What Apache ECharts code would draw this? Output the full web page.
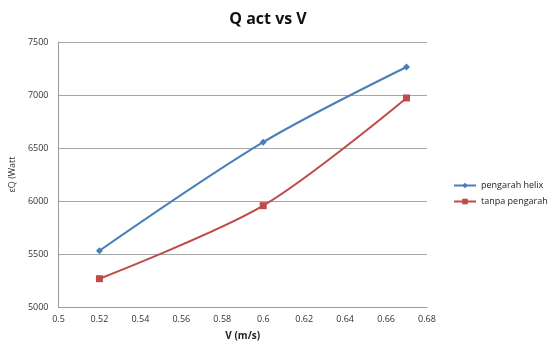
<!DOCTYPE html>
<html>
<head>
<meta charset="utf-8">
<script src="https://cdn.jsdelivr.net/npm/echarts@6/dist/echarts.min.js"></script>
<style>
html,body{margin:0;padding:0;background:#fff;}
#chart{width:552px;height:347px;}
</style>
</head>
<body>
<div id="chart"></div>
<script>
// Velocity (m/s) and heat transfer rate (Watt)
const velocity = [0.52, 0.6, 0.67];
const helixQ = [5531, 6555, 7264];
const plainQ = [5267, 5956, 6972];
const seriesNames = ['pengarah helix', 'tanpa pengarah'];

const font = 'Open Sans, Liberation Sans, sans-serif';
const chart = echarts.init(document.getElementById('chart'));
chart.setOption({
  animation: false,
  title: {
    text: 'Q act vs V',
    left: 263, top: 6, textAlign: 'center',
    textStyle: {fontFamily: font, fontSize: 16, fontWeight: 'bold', color: '#111'}
  },
  legend: {
    orient: 'vertical', left: 448, top: 176, itemGap: 7,
    itemWidth: 22, itemHeight: 7,
    textStyle: {fontFamily: font, fontSize: 9, color: '#222'},
    data: seriesNames
  },
  grid: {left: 58, right: 125, top: 42, bottom: 40},
  xAxis: {
    type: 'value', min: 0.5, max: 0.68, interval: 0.02,
    name: 'V (m/s)', nameLocation: 'middle', nameGap: 24,
    nameTextStyle: {fontFamily: font, fontSize: 10, fontWeight: 'bold', color: '#222'},
    axisLine: {lineStyle: {color: '#9a9a9a', width: 1}},
    axisTick: {show: false},
    splitLine: {show: false},
    axisLabel: {fontFamily: font, fontSize: 9, color: '#333', margin: 8,
      formatter: v => String(parseFloat(v.toFixed(2)))}
  },
  yAxis: {
    type: 'value', min: 5000, max: 7500, interval: 500,
    name: 'εQ (Watt', nameLocation: 'middle', nameGap: 33,
    nameTextStyle: {fontFamily: font, fontSize: 9, color: '#333'},
    axisLine: {show: true, lineStyle: {color: '#9a9a9a', width: 1}},
    axisTick: {show: false},
    splitLine: {lineStyle: {color: '#a6a6a6', width: 1}},
    axisLabel: {fontFamily: font, fontSize: 9, color: '#333', margin: 10,
      formatter: v => String(v)}
  },
  series: [
    {
      name: seriesNames[0], type: 'line', smooth: 0.3,
      data: velocity.map((v, i) => [v, helixQ[i]]),
      symbol: 'diamond', symbolSize: 7,
      lineStyle: {color: '#4a7ebb', width: 2},
      itemStyle: {color: '#4a7ebb'}
    },
    {
      name: seriesNames[1], type: 'line', smooth: 0.3,
      data: velocity.map((v, i) => [v, plainQ[i]]),
      symbol: 'rect', symbolSize: 7,
      lineStyle: {color: '#be4b48', width: 2},
      itemStyle: {color: '#be4b48'}
    }
  ]
});
</script>
</body>
</html>
